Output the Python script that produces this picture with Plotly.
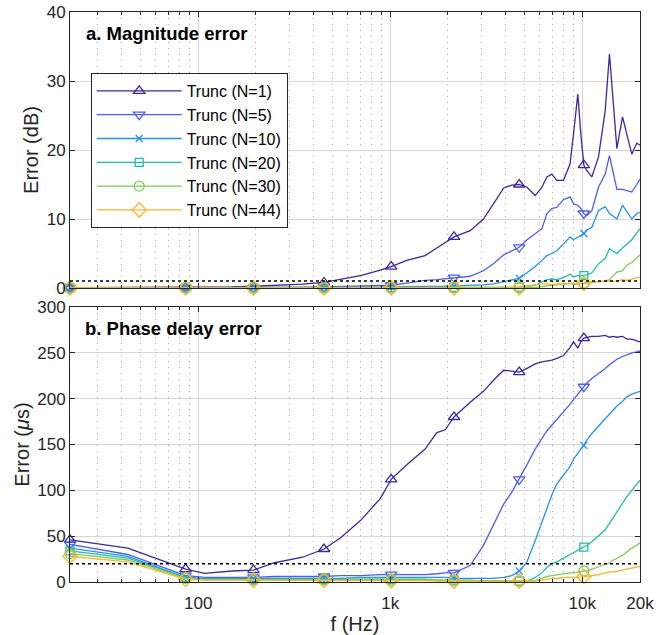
import plotly.graph_objects as go
import numpy as np

# ---------------- data ----------------
FREQ = [21.5, 43, 86, 108, 150, 194, 250, 350, 452, 550, 700, 888, 1012, 1220, 1520,
        1750, 1935, 2150, 2610, 3060, 3450, 3900, 4300, 4700, 5160, 5690, 6170, 6550,
        6950, 7380, 7990, 8650, 9010, 9490, 9840, 10200, 10580, 11230, 12160, 13180,
        13870, 14560, 15160, 16220, 17080, 18130, 19260, 20000]

MARKER_FREQ = [21.5, 86, 194, 452, 1012, 2150, 4700, 10200]

LABELS = ["Trunc (N=1)", "Trunc (N=5)", "Trunc (N=10)", "Trunc (N=20)",
          "Trunc (N=30)", "Trunc (N=44)"]

# magnitude error (dB)
MAG_N1 = [0.05, 0.05, 0.1, 0.1, 0.15, 0.25, 0.35, 0.55, 0.8, 1.2, 1.8, 2.6, 3.1, 4.0, 4.7,
          5.8, 6.6, 7.4, 8.3, 10.0, 12.2, 14.5, 14.9, 15.0, 14.6, 13.4, 14.6, 16.1,
          16.5, 15.6, 15.6, 18.0, 22.3, 28.1, 22.3, 17.8, 17.0, 16.1, 19.0, 25.7,
          33.9, 25.7, 20.2, 24.8, 22.3, 19.4, 21.0, 20.7]
MAG_N5 = [0.02, 0.02, 0.05, 0.05, 0.05, 0.05, 0.08, 0.1, 0.15, 0.2, 0.3, 0.35, 0.4, 0.7, 1.1,
          1.2, 1.3, 1.5, 1.7, 2.5, 3.5, 4.8, 5.4, 5.9, 7.0, 7.9, 8.6, 10.8,
          11.5, 11.7, 12.8, 13.2, 12.2, 12.0, 11.5, 10.8, 10.5, 11.2, 14.6, 16.5,
          19.2, 16.5, 14.3, 14.3, 14.1, 13.9, 15.0, 15.8]
MAG_N10 = [0.02, 0.02, 0.03, 0.03, 0.03, 0.04, 0.05, 0.05, 0.06, 0.08, 0.1, 0.12, 0.15, 0.15, 0.2,
           0.2, 0.25, 0.3, 0.35, 0.45, 0.6, 0.9, 1.1, 1.4, 2.2, 3.1, 4.0, 4.7,
           5.0, 5.4, 6.4, 7.4, 7.0, 7.4, 7.6, 7.9, 8.4, 8.8, 11.2, 11.8,
           10.8, 10.3, 10.0, 12.0, 11.0, 10.0, 10.8, 11.0]
MAG_N20 = [0.01, 0.01, 0.02, 0.02, 0.02, 0.02, 0.02, 0.03, 0.03, 0.03, 0.04, 0.04, 0.05, 0.05, 0.05,
           0.06, 0.06, 0.07, 0.08, 0.08, 0.09, 0.1, 0.1, 0.12, 0.2, 0.4, 0.8, 1.2,
           1.3, 1.2, 1.5, 2.0, 1.6, 1.8, 1.8, 1.8, 1.9, 2.2, 3.5, 4.3,
           5.7, 5.3, 5.0, 5.8, 6.4, 7.0, 8.0, 8.6]
MAG_N30 = [0.01, 0.01, 0.01, 0.01, 0.01, 0.01, 0.02, 0.02, 0.02, 0.02, 0.02, 0.03, 0.03, 0.03, 0.03,
           0.03, 0.03, 0.04, 0.04, 0.04, 0.04, 0.05, 0.05, 0.05, 0.05, 0.08, 0.2, 0.35,
           0.4, 0.45, 0.5, 0.7, 0.5, 0.6, 0.6, 0.7, 0.7, 0.8, 0.9, 1.0,
           1.2, 1.8, 2.3, 2.5, 3.3, 3.7, 4.4, 4.8]
MAG_N44 = [0.01, 0.01, 0.01, 0.01, 0.01, 0.01, 0.01, 0.01, 0.01, 0.01, 0.02, 0.02, 0.02, 0.02, 0.02,
           0.02, 0.02, 0.02, 0.02, 0.02, 0.02, 0.02, 0.02, 0.03, 0.3, 0.5, 0.6, 0.6,
           0.5, 0.6, 0.6, 0.6, 0.7, 0.7, 0.6, 0.7, 0.9, 0.9, 0.9, 0.9,
           1.0, 0.9, 1.0, 1.2, 1.1, 1.3, 1.5, 1.6]

# phase delay error (us)
PH_N1 = [46, 37, 14, 9.5, 12, 13, 21, 27, 36, 48, 67, 91, 112, 128, 145,
         163, 166, 180, 196, 208, 220, 231, 230, 229, 233, 238, 240, 241,
         242, 244, 247, 256, 262, 255, 262, 266, 267, 268, 268, 269,
         267, 268, 267, 268, 265, 265, 263, 262]
PH_N5 = [41, 30, 7, 5, 5, 5, 6, 6, 6, 7, 7, 8, 8, 8, 8,
         9, 10, 10, 18, 40, 62, 85, 98, 112, 128, 145, 156, 165,
         171, 177, 186, 194, 199, 205, 209, 213, 217, 222, 227, 233,
         237, 240, 243, 246, 248, 250, 251, 252]
PH_N10 = [37, 28, 5, 4, 4, 4, 4, 4, 4, 4, 5, 5, 5, 5, 5,
          5, 5, 4, 4, 4, 4, 5, 7, 12, 22, 45, 65, 82,
          95, 107, 117, 126, 134, 141, 145, 149, 155, 162, 170, 178,
          183, 188, 192, 197, 202, 205, 207, 208]
PH_N20 = [34, 26, 5, 3, 3, 3, 3, 3, 3, 3, 3, 3, 3, 3, 3,
          2, 2, 2, 2, 1, 1, 1, 1, 1, 1, 5, 10, 16,
          20, 22, 26, 30, 32, 35, 37, 38, 40, 44, 50, 57,
          64, 71, 77, 87, 93, 100, 107, 111]
PH_N30 = [31, 24, 4, 2.5, 2.5, 2.5, 2.5, 2.5, 2.5, 2.5, 2.5, 2, 2, 2, 2,
          2, 2, 1.5, 1.5, 1, 1, 1, 1, 1, 1, 1.5, 4, 6,
          7, 8, 9, 10, 10, 11, 11, 12, 12, 14, 16, 19,
          21, 24, 26, 29, 33, 37, 40, 43]
PH_N44 = [28, 22, 3, 2, 2, 2, 2, 2, 2, 1.5, 1.5, 1.5, 1.5, 1.5, 1.5,
          1, 1, 1, 1, 1, 1, 1, 1, 1, 1, 1, 2, 3,
          4, 4, 5, 5, 5, 5.5, 5.5, 6, 6, 7, 8, 10,
          11, 11, 12, 13, 14, 15, 16, 17]

MAG_SERIES = [MAG_N1, MAG_N5, MAG_N10, MAG_N20, MAG_N30, MAG_N44]
PH_SERIES = [PH_N1, PH_N5, PH_N10, PH_N20, PH_N30, PH_N44]

MAG_THRESHOLD = 1      # dB
PH_THRESHOLD = 20      # us

X_TICKS = [100, 1000, 10000, 20000]
X_TICKTEXT = ["100", "1k", "10k", "20k"]
MAG_TICKS = [0, 10, 20, 30, 40]
PH_TICKS = [0, 50, 100, 150, 200, 250, 300]

# ---------------- style ----------------
COLORS = ["#3b2a9e", "#4c5ef0", "#2592ee", "#22bbb0", "#7fcb5c", "#fbb42a"]
SYMBOLS = ["triangle-up-open", "triangle-down-open", "x-thin-open", "square-open",
           "circle-open", "diamond-open"]
SIZES = [10, 10, 7, 8, 10, 11]
FONT = "Liberation Sans, Arial, Helvetica, sans-serif"
AXC = "#262626"

minor_vals = [m * d for d in (10, 100, 1000) for m in range(2, 10)]
minor_vals = [v for v in minor_vals if v > FREQ[0]]

fig = go.Figure()

midx = [FREQ.index(f) for f in MARKER_FREQ]

for k in range(6):
    for ax, series in (("", MAG_SERIES[k]), ("2", PH_SERIES[k])):
        xa, ya = "x" + ax, "y" + ax
        fig.add_trace(go.Scatter(
            x=FREQ, y=series, mode="lines", xaxis=xa, yaxis=ya,
            line=dict(color=COLORS[k], width=1.3), showlegend=False,
            legendgroup=LABELS[k], hoverinfo="skip"))
        fig.add_trace(go.Scatter(
            x=[FREQ[i] for i in midx], y=[series[i] for i in midx],
            mode="markers", xaxis=xa, yaxis=ya, cliponaxis=False,
            marker=dict(symbol=SYMBOLS[k], size=SIZES[k], color=COLORS[k],
                        line=dict(color=COLORS[k], width=1.3)),
            showlegend=False, legendgroup=LABELS[k], hoverinfo="skip"))
    # legend entry
    fig.add_trace(go.Scatter(
        x=[None], y=[None], mode="lines+markers", name=LABELS[k],
        legendgroup=LABELS[k], xaxis="x", yaxis="y",
        line=dict(color=COLORS[k], width=1.3),
        marker=dict(symbol=SYMBOLS[k], size=SIZES[k], color=COLORS[k],
                    line=dict(color=COLORS[k], width=1.3))))

xrange_log = [np.log10(FREQ[0]) - 1e-4, np.log10(FREQ[-1]) + 1e-4]

def xaxis_cfg(show_labels, anchor):
    return dict(
        type="log", range=xrange_log, anchor=anchor, automargin=False,
        tickvals=X_TICKS, ticktext=X_TICKTEXT, showticklabels=show_labels,
        ticks="inside", ticklen=5, tickwidth=1, tickcolor=AXC,
        ticklabelstandoff=6,
        showline=True, linecolor=AXC, linewidth=1, mirror="allticks",
        showgrid=True, gridcolor="#d6d6d6", gridwidth=1,
        zeroline=False,
        tickfont=dict(size=17, color="#262626", family=FONT),
        minor=dict(tickvals=minor_vals, ticks="inside", ticklen=3, tickcolor=AXC,
                   showgrid=True, gridcolor="#a8a8a8", griddash="1px,5px", gridwidth=1),
    )

def yaxis_cfg(domain, rng, ticks, title, anchor):
    return dict(
        domain=domain, range=rng, tickvals=ticks, anchor=anchor, automargin=False,
        ticks="inside", ticklen=5, tickwidth=1, tickcolor=AXC,
        showline=True, linecolor=AXC, linewidth=1, mirror="allticks",
        showgrid=True, gridcolor="#d6d6d6", gridwidth=1, zeroline=False,
        tickfont=dict(size=17, color="#262626", family=FONT),
        title=dict(text=title, font=dict(size=20, color="#262626", family=FONT), standoff=2),
    )

fig.update_layout(
    width=668, height=635,
    margin=dict(l=70, r=28, t=12, b=53, autoexpand=False),
    paper_bgcolor="white", plot_bgcolor="white",
    font=dict(family=FONT, color="#262626"),
    xaxis=xaxis_cfg(False, "y"),
    yaxis=yaxis_cfg([0.5158, 1.0], [0, 40], MAG_TICKS, "Error (dB)", "x"),
    xaxis2=xaxis_cfg(True, "y2"),
    yaxis2=yaxis_cfg([0.0, 0.4825], [0, 300], PH_TICKS, "Error (<i>μ</i>s)", "x2"),
    legend=dict(x=0.0363, y=0.893, xanchor="left", yanchor="top",
                bgcolor="white", bordercolor=AXC, borderwidth=1,
                font=dict(size=16, color="black", family=FONT),
                tracegroupgap=0, itemsizing="trace", itemwidth=85),
    showlegend=True,
)
fig.layout.xaxis2.title = dict(text="f (Hz)", font=dict(size=20, color="#262626", family=FONT), standoff=4)

fig.add_shape(type="line", xref="x domain", yref="y", x0=0, x1=1,
              y0=MAG_THRESHOLD, y1=MAG_THRESHOLD, line=dict(color="black", width=1.5, dash="dot"))
fig.add_shape(type="line", xref="x2 domain", yref="y2", x0=0, x1=1,
              y0=PH_THRESHOLD, y1=PH_THRESHOLD, line=dict(color="black", width=1.5, dash="dot"))

fig.add_annotation(text="<b>a. Magnitude error</b>", xref="paper", yref="paper",
                   x=0.0246, y=0.963, xanchor="left", yanchor="middle", showarrow=False,
                   font=dict(size=18.5, color="black", family=FONT))
fig.add_annotation(text="<b>b. Phase delay error</b>", xref="paper", yref="paper",
                   x=0.0228, y=0.4456, xanchor="left", yanchor="middle", showarrow=False,
                   font=dict(size=18.5, color="black", family=FONT))

fig.write_html("out.html")
